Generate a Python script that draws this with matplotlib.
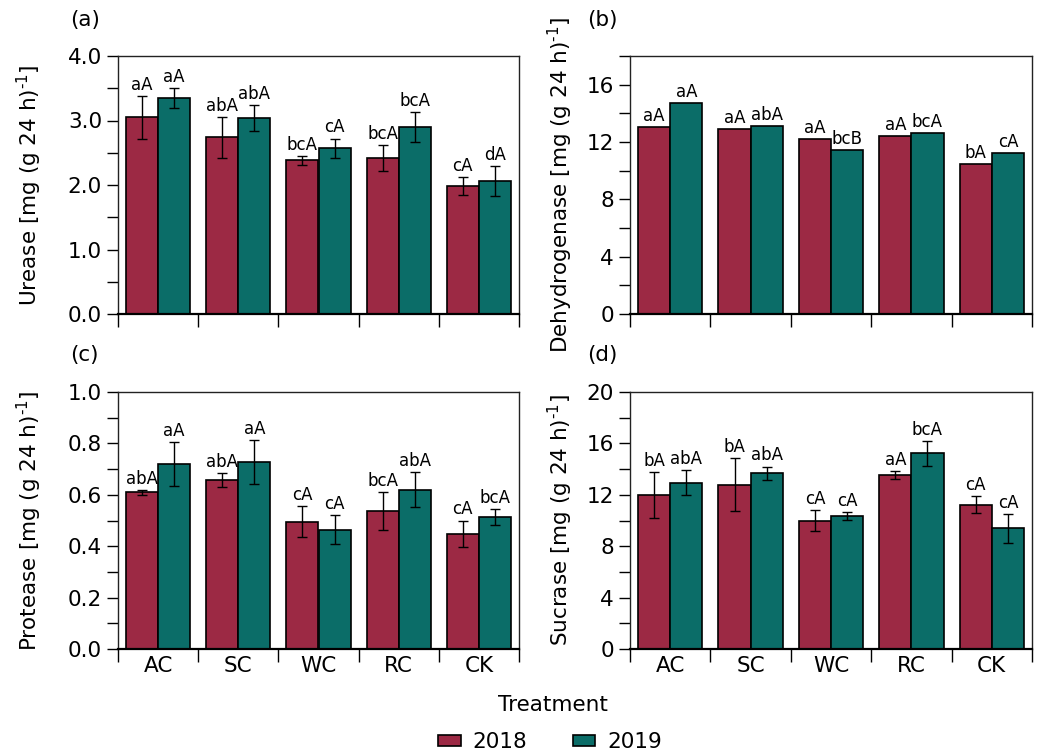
import numpy as np
import matplotlib
matplotlib.use("Agg")
import matplotlib.pyplot as plt
from matplotlib.ticker import MultipleLocator

plt.rcParams['font.family'] = ['DejaVu Sans']

treatments = ["AC", "SC", "WC", "RC", "CK"]
years = ["2018", "2019"]

# Urease
urease_2018 = [3.05, 2.74, 2.38, 2.42, 1.98]
urease_2019 = [3.35, 3.04, 2.57, 2.90, 2.06]
urease_err_2018 = [0.33, 0.32, 0.07, 0.20, 0.14]
urease_err_2019 = [0.16, 0.20, 0.15, 0.23, 0.23]
urease_lab_2018 = ["aA", "abA", "bcA", "bcA", "cA"]
urease_lab_2019 = ["aA", "abA", "cA", "bcA", "dA"]

# Dehydrogenase (no error bars)
dehyd_2018 = [13.05, 12.93, 12.21, 12.40, 10.44]
dehyd_2019 = [14.70, 13.12, 11.47, 12.63, 11.21]
dehyd_lab_2018 = ["aA", "aA", "aA", "aA", "bA"]
dehyd_lab_2019 = ["aA", "abA", "bcB", "bcA", "cA"]

# Protease
protease_2018 = [0.610, 0.657, 0.495, 0.538, 0.448]
protease_2019 = [0.720, 0.728, 0.464, 0.620, 0.513]
protease_err_2018 = [0.009, 0.028, 0.060, 0.074, 0.052]
protease_err_2019 = [0.085, 0.085, 0.057, 0.069, 0.031]
protease_lab_2018 = ["abA", "abA", "cA", "bcA", "cA"]
protease_lab_2019 = ["aA", "aA", "cA", "abA", "bcA"]

# Sucrase
sucrase_2018 = [11.97, 12.80, 10.00, 13.55, 11.22]
sucrase_2019 = [12.95, 13.68, 10.36, 15.23, 9.40]
sucrase_err_2018 = [1.79, 2.07, 0.83, 0.31, 0.65]
sucrase_err_2019 = [0.98, 0.52, 0.31, 0.96, 1.12]
sucrase_lab_2018 = ["bA", "bA", "cA", "aA", "cA"]
sucrase_lab_2019 = ["abA", "abA", "cA", "bcA", "cA"]

c2018 = "#9c2944"
c2019 = "#0b6d68"
FS = 15.5
W, H = 1043, 756


def px_axes(fig, left, top, right, bottom):
    return fig.add_axes([left / W, 1 - bottom / H, (right - left) / W, (bottom - top) / H])


def draw_panel(ax, v18, v19, e18, e19, l18, l19, ymax, major, minor, fmt, ylabel, show_x):
    x = np.arange(len(treatments)) + 0.5
    w = 0.4
    bar_kw = dict(width=w, edgecolor="black", linewidth=1.2, zorder=2)
    ek = dict(elinewidth=1.0, capthick=1.0, ecolor="black")
    ax.bar(x - w / 2, v18, color=c2018, yerr=e18, capsize=3.6, error_kw=ek, label=years[0], **bar_kw)
    ax.bar(x + w / 2, v19, color=c2019, yerr=e19, capsize=3.6, error_kw=ek, label=years[1], **bar_kw)

    tops18 = np.array(v18) + (np.array(e18) if e18 is not None else 0)
    tops19 = np.array(v19) + (np.array(e19) if e19 is not None else 0)
    for xi, t, s in zip(x - w / 2, tops18, l18):
        ax.annotate(s, (xi, t), xytext=(0, 1.5), textcoords="offset points",
                    ha="center", va="bottom", fontsize=12)
    for xi, t, s in zip(x + w / 2, tops19, l19):
        ax.annotate(s, (xi, t), xytext=(0, 1.5), textcoords="offset points",
                    ha="center", va="bottom", fontsize=12)

    ax.set_xlim(0, 5)
    ax.set_ylim(0, ymax)
    ax.yaxis.set_major_locator(MultipleLocator(major))
    ax.yaxis.set_minor_locator(MultipleLocator(minor))
    ax.yaxis.set_major_formatter(plt.FormatStrFormatter(fmt))
    ax.set_xticks(np.arange(6))
    ax.set_xticklabels([])
    ax.set_xticks(x, treatments if show_x else [""] * 5, minor=True)
    ax.tick_params(axis="x", which="major", direction="out", length=9, width=1)
    ax.tick_params(axis="x", which="minor", length=0, labelsize=FS, pad=5)
    ax.tick_params(axis="y", which="both", direction="out", length=8, width=1, labelsize=FS)
    for sp in ax.spines.values():
        sp.set_linewidth(1.0)
        sp.set_edgecolor("#222222")
    ax.spines["bottom"].set_linewidth(1.6)
    ax.spines["bottom"].set_edgecolor("black")
    ax.set_ylabel(ylabel, fontsize=FS)


unit = r" [mg (g 24 h)$^{\mathregular{\text{-}1}}$]"

fig = plt.figure(figsize=(W / 100, H / 100), dpi=100)
ax_a = px_axes(fig, 118, 56, 519, 314)
ax_b = px_axes(fig, 630, 56, 1032, 314)
ax_c = px_axes(fig, 118, 392, 519, 649)
ax_d = px_axes(fig, 630, 392, 1032, 649)

draw_panel(ax_a, urease_2018, urease_2019, urease_err_2018, urease_err_2019,
           urease_lab_2018, urease_lab_2019, 4.0, 1.0, 0.5, "%.1f", "Urease" + unit, False)
draw_panel(ax_b, dehyd_2018, dehyd_2019, None, None,
           dehyd_lab_2018, dehyd_lab_2019, 18, 4, 2, "%d", "Dehydrogenase" + unit, False)
draw_panel(ax_c, protease_2018, protease_2019, protease_err_2018, protease_err_2019,
           protease_lab_2018, protease_lab_2019, 1.0, 0.2, 0.1, "%.1f", "Protease" + unit, True)
draw_panel(ax_d, sucrase_2018, sucrase_2019, sucrase_err_2018, sucrase_err_2019,
           sucrase_lab_2018, sucrase_lab_2019, 20, 4, 2, "%d", "Sucrase" + unit, True)

ax_a.yaxis.set_label_coords(-0.185, 0.5)
ax_c.yaxis.set_label_coords(-0.185, 0.5)
ax_b.yaxis.set_label_coords(-0.138, 0.5)
ax_d.yaxis.set_label_coords(-0.138, 0.5)

for s, (px, py) in zip(["(a)", "(b)", "(c)", "(d)"], [(70, 20), (587, 20), (70, 355), (587, 355)]):
    fig.text(px / W, 1 - py / H, s, fontsize=FS, ha="left", va="center")

fig.text(553 / W, 1 - 705 / H, "Treatment", fontsize=FS, ha="center", va="center")
handles, labels = ax_c.get_legend_handles_labels()
fig.legend(handles, labels, loc="center", bbox_to_anchor=(550 / W, 1 - 742 / H), ncol=2,
           frameon=False, fontsize=FS, handlelength=1.05, handleheight=0.45,
           handletextpad=0.55, columnspacing=2.1)

fig.savefig("out.png", dpi=100)
